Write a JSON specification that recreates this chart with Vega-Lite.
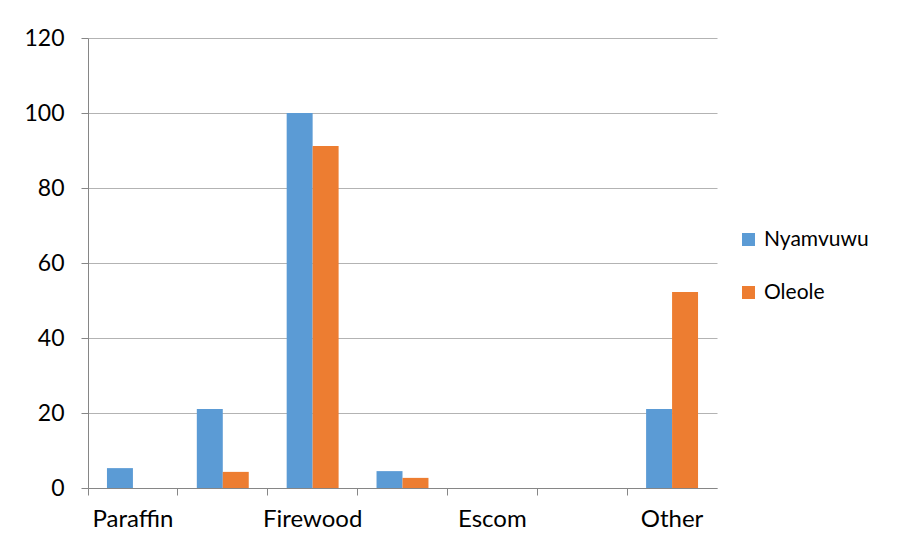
{
  "$schema": "https://vega.github.io/schema/vega-lite/v6.json",
  "width": 629,
  "height": 450,
  "autosize": {"type": "none"},
  "padding": {"left": 88, "top": 38, "right": 190, "bottom": 60},
  "background": "white",
  "config": {
    "font": "Lato",
    "view": {"stroke": null}
  },
  "data": {
    "values": [
      {"source": "Paraffin", "area": "Nyamvuwu", "value": 5.3},
      {"source": "Paraffin", "area": "Oleole", "value": 0},
      {"source": "Charcoal", "area": "Nyamvuwu", "value": 21.1},
      {"source": "Charcoal", "area": "Oleole", "value": 4.3},
      {"source": "Firewood", "area": "Nyamvuwu", "value": 100},
      {"source": "Firewood", "area": "Oleole", "value": 91.2},
      {"source": "Gas", "area": "Nyamvuwu", "value": 4.5},
      {"source": "Gas", "area": "Oleole", "value": 2.7},
      {"source": "Escom", "area": "Nyamvuwu", "value": 0},
      {"source": "Escom", "area": "Oleole", "value": 0},
      {"source": "Solar", "area": "Nyamvuwu", "value": 0},
      {"source": "Solar", "area": "Oleole", "value": 0},
      {"source": "Other", "area": "Nyamvuwu", "value": 21.1},
      {"source": "Other", "area": "Oleole", "value": 52.3}
    ]
  },
  "mark": {"type": "bar"},
  "encoding": {
    "x": {
      "field": "source",
      "type": "nominal",
      "sort": ["Paraffin", "Charcoal", "Firewood", "Gas", "Escom", "Solar", "Other"],
      "scale": {"paddingInner": 0, "paddingOuter": 0},
      "axis": {
        "title": null,
        "labelAngle": 0,
        "labelFontSize": 24,
        "labelColor": "#000000",
        "labelPadding": 12,
        "tickSize": 7,
        "tickColor": "#868686",
        "domainColor": "#868686",
        "bandPosition": 0,
        "labelExpr": "indexof(['Paraffin','Firewood','Escom','Other'], datum.value) >= 0 ? datum.value : ''",
        "labelOverlap": false,
        "grid": false
      }
    },
    "xOffset": {
      "field": "area",
      "type": "nominal",
      "scale": {"paddingInner": 0, "paddingOuter": 0.73}
    },
    "y": {
      "field": "value",
      "type": "quantitative",
      "scale": {"domain": [0, 120], "nice": false},
      "axis": {
        "title": null,
        "values": [0, 20, 40, 60, 80, 100, 120],
        "labelFontSize": 23,
        "labelColor": "#000000",
        "labelPadding": 17,
        "tickSize": 7,
        "tickColor": "#868686",
        "domainColor": "#868686",
        "gridColor": "#b3b3b3",
        "gridWidth": 1
      }
    },
    "color": {
      "field": "area",
      "type": "nominal",
      "scale": {"domain": ["Nyamvuwu", "Oleole"], "range": ["#5B9BD5", "#ED7D31"]},
      "legend": {
        "title": null,
        "orient": "none",
        "legendX": 650,
        "legendY": 191,
        "symbolType": "square",
        "symbolSize": 169,
        "symbolStrokeWidth": 0,
        "labelFontSize": 21,
        "labelColor": "#000000",
        "labelOffset": 5,
        "rowPadding": 31,
        "padding": 0
      }
    }
  }
}
